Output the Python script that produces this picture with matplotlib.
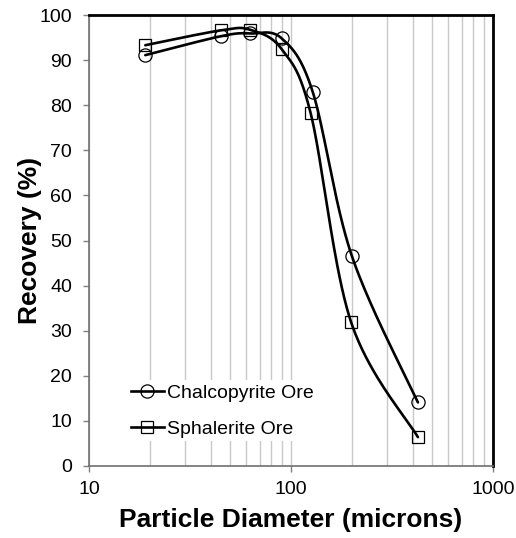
import numpy as np
import matplotlib
matplotlib.use("Agg")
import matplotlib.pyplot as plt
from matplotlib.ticker import FixedLocator, NullFormatter

plt.rcParams['font.family'] = ['Liberation Sans', 'DejaVu Sans']

# Data
chalco_x = [19, 45, 63, 90, 128, 200, 425]
chalco_y = [91.1, 95.3, 95.9, 94.8, 83.0, 46.6, 14.1]
sphal_x = [19, 45, 63, 90, 125, 198, 425]
sphal_y = [93.3, 96.6, 96.7, 92.4, 78.3, 32.0, 6.4]

series = [("Chalcopyrite Ore", chalco_x, chalco_y, 'o', 9.5),
          ("Sphalerite Ore", sphal_x, sphal_y, 's', 8.5)]

W, H = 516, 538
fig = plt.figure(figsize=(W / 100, H / 100), dpi=100)
ax = fig.add_axes([89 / W, 1 - 466 / H, (493 - 89) / W, (466 - 15) / H])

XMIN, XMAX, YMIN, YMAX = 10, 1000, 0, 100
AXW, AXH = 404.0, 451.0


def smooth(xs, ys, n=40):
    # Catmull-Rom style Bezier smoothing in display-like space
    u = (np.log10(xs) - np.log10(XMIN)) / (np.log10(XMAX) - np.log10(XMIN)) * AXW
    v = (np.asarray(ys) - YMIN) / (YMAX - YMIN) * AXH
    P = np.column_stack([u, v])
    Pe = np.vstack([P[0], P, P[-1]])
    out = []
    t = np.linspace(0, 1, n)[:, None]
    for i in range(len(P) - 1):
        p0, p3 = Pe[i + 1], Pe[i + 2]
        c1 = p0 + (Pe[i + 2] - Pe[i]) / 6.0
        c2 = p3 - (Pe[i + 3] - Pe[i + 1]) / 6.0
        seg = ((1 - t) ** 3) * p0 + 3 * ((1 - t) ** 2) * t * c1 + 3 * (1 - t) * t ** 2 * c2 + t ** 3 * p3
        out.append(seg if i == 0 else seg[1:])
    out = np.vstack(out)
    xx = 10 ** (out[:, 0] / AXW * (np.log10(XMAX) - np.log10(XMIN)) + np.log10(XMIN))
    yy = out[:, 1] / AXH * (YMAX - YMIN) + YMIN
    return xx, yy


for label, xs, ys, m, ms in series:
    sx, sy = smooth(xs, ys)
    ax.plot(sx, sy, color='black', lw=1.9, zorder=3, solid_capstyle='round')
    ax.plot(xs, ys, linestyle='none', marker=m, markersize=ms, markerfacecolor='none',
            markeredgecolor='black', markeredgewidth=0.9, zorder=4)
    ax.plot([], [], color='black', lw=1.9, marker=m, markersize=ms,
            markerfacecolor='none', markeredgecolor='black', markeredgewidth=0.9, label=label)

ax.set_xscale('log')
ax.set_xlim(XMIN, XMAX)
ax.set_ylim(YMIN, YMAX)

ax.xaxis.set_major_locator(FixedLocator([10, 100, 1000]))
ax.set_xticklabels(['10', '100', '1000'])
minors = [m * d for d in (10, 100) for m in range(2, 10)]
ax.xaxis.set_minor_locator(FixedLocator(minors))
ax.xaxis.set_minor_formatter(NullFormatter())
ax.set_yticks(np.arange(0, 101, 10))

ax.grid(True, which='both', axis='x', color='#c8c8c8', lw=1.0, zorder=0)
ax.tick_params(axis='x', which='minor', length=0)
ax.tick_params(axis='both', which='major', direction='out', length=4.3, width=1,
               color='#808080', labelsize=14)
ax.tick_params(axis='y', which='major', pad=8)
ax.tick_params(axis='x', which='major', pad=6.5)

for s in ('left', 'bottom'):
    ax.spines[s].set_color('#707070')
    ax.spines[s].set_linewidth(1.2)
for s in ('top', 'right'):
    ax.spines[s].set_color('black')
    ax.spines[s].set_linewidth(2.0)

ax.set_xlabel('Particle Diameter (microns)', fontsize=19, fontweight='bold', labelpad=7)
ax.set_ylabel('Recovery (%)', fontsize=19, fontweight='bold', labelpad=-2)

leg = ax.legend(loc='upper left', bbox_to_anchor=((127 - 89) / AXW, (466 - 380) / AXH),
                frameon=True, fontsize=14, handlelength=1.7, handletextpad=0.15,
                labelspacing=0.95, borderpad=0.2, borderaxespad=0)
leg.get_frame().set_facecolor('white')
leg.get_frame().set_edgecolor('none')
leg.get_frame().set_alpha(1)
leg.set_zorder(5)

fig.savefig('out.png', dpi=100)
